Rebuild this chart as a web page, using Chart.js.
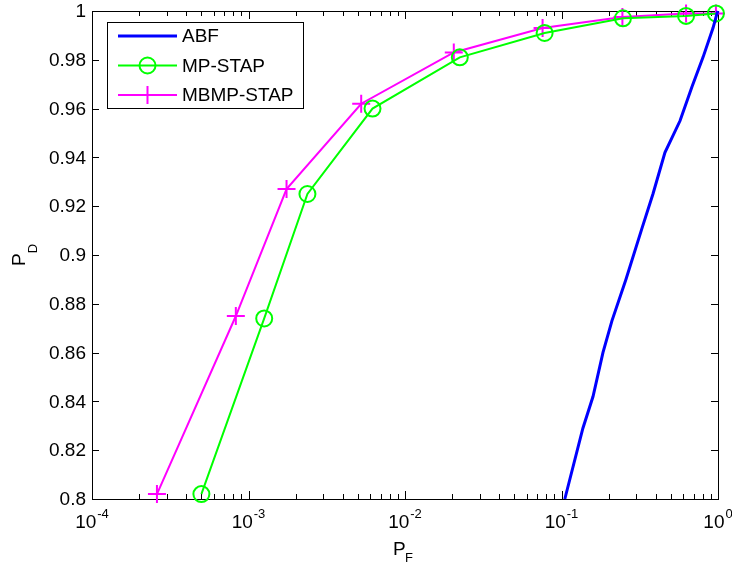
<!DOCTYPE html>
<html>
<head>
<meta charset="utf-8">
<script src="https://cdn.jsdelivr.net/npm/chart.js@4/dist/chart.umd.min.js"></script>
<style>
  html, body { margin: 0; padding: 0; background: #fff; }
  #wrap { width: 732px; height: 567px; }
</style>
</head>
<body>
<div id="wrap"><canvas id="roc" width="732" height="567"></canvas></div>
<script>
// ROC curves: detection probability vs false alarm probability
const seriesNames = ['ABF', 'MP-STAP', 'MBMP-STAP'];

const abfPf = [0.105, 0.137, 0.159, 0.184, 0.210, 0.258, 0.327, 0.384, 0.458, 0.572, 0.682, 0.802, 0.929, 0.986, 1.0];
const abfPd = [0.800, 0.829, 0.842, 0.860, 0.873, 0.890, 0.911, 0.925, 0.942, 0.955, 0.969, 0.981, 0.993, 0.999, 1.0];

const mpPf = [5.0e-4, 1.26e-3, 2.38e-3, 6.2e-3, 0.0224, 0.078, 0.247, 0.625, 0.97];
const mpPd = [0.802, 0.874, 0.925, 0.960, 0.981, 0.991, 0.997, 0.998, 0.999];

const mbPf = [2.6e-4, 8.3e-4, 1.75e-3, 5.25e-3, 0.0205, 0.0757, 0.245, 0.625, 0.97];
const mbPd = [0.802, 0.875, 0.927, 0.962, 0.983, 0.993, 0.9975, 0.999, 0.999];

const xDecades = [-4, -3, -2, -1, 0];
const yTicks = [0.8, 0.82, 0.84, 0.86, 0.88, 0.9, 0.92, 0.94, 0.96, 0.98, 1];
const yTickLabels = ['0.8', '0.82', '0.84', '0.86', '0.88', '0.9', '0.92', '0.94', '0.96', '0.98', '1'];

const FONT = '"Liberation Sans", Arial, Helvetica, sans-serif';

function pts(xs, ys) {
    return xs.map((x, i) => ({ x: x, y: ys[i] }));
}

// axes box, inward ticks, tick labels, axis titles, legend
const matlabAxes = {
    id: 'matlabAxes',
    beforeDatasetsDraw(chart) {
        const { ctx, chartArea: a, scales: { x, y } } = chart;
        ctx.save();
        ctx.strokeStyle = '#000';
        ctx.lineWidth = 1;
        ctx.beginPath();
        xDecades.forEach(k => {
            for (let m = 1; m <= 9; m++) {
                const v = m * Math.pow(10, k);
                if (v > 1) break;
                const px = Math.round(x.getPixelForValue(v)) + 0.5;
                const len = m === 1 ? 8 : 5;
                ctx.moveTo(px, a.bottom); ctx.lineTo(px, a.bottom - len);
                ctx.moveTo(px, a.top); ctx.lineTo(px, a.top + len);
            }
        });
        yTicks.forEach(v => {
            const py = Math.round(y.getPixelForValue(v)) + 0.5;
            ctx.moveTo(a.left, py); ctx.lineTo(a.left + 7, py);
            ctx.moveTo(a.right, py); ctx.lineTo(a.right - 7, py);
        });
        ctx.stroke();
        ctx.strokeRect(Math.round(a.left) + 0.5, Math.round(a.top) + 0.5,
            Math.round(a.right - a.left), Math.round(a.bottom - a.top));

        ctx.fillStyle = '#000';

        // y tick labels
        ctx.font = '19px ' + FONT;
        ctx.textAlign = 'right';
        ctx.textBaseline = 'middle';
        yTicks.forEach((v, i) => {
            ctx.fillText(yTickLabels[i], a.left - 6, y.getPixelForValue(v) + 1);
        });

        // x tick labels 10^k
        ctx.textBaseline = 'alphabetic';
        ctx.textAlign = 'left';
        xDecades.forEach(k => {
            const px = x.getPixelForValue(Math.pow(10, k));
            ctx.font = '19px ' + FONT;
            const wb = ctx.measureText('10').width;
            ctx.font = '13px ' + FONT;
            const exp = k === 0 ? '0' : '-' + Math.abs(k);
            const we = ctx.measureText(exp).width;
            const x0 = px - (wb + 1 + we) / 2;
            ctx.font = '19px ' + FONT;
            ctx.fillText('10', x0, a.bottom + 29);
            ctx.font = '13px ' + FONT;
            ctx.fillText(exp, x0 + wb + 1, a.bottom + 19);
        });

        // x axis title P_F
        ctx.font = '19px ' + FONT;
        ctx.fillText('P', 393, 555);
        ctx.font = '13px ' + FONT;
        ctx.fillText('F', 405, 562);

        // y axis title P_D
        ctx.translate(25, 266);
        ctx.rotate(-Math.PI / 2);
        ctx.font = '19px ' + FONT;
        ctx.fillText('P', 0, 0);
        const wp = ctx.measureText('P').width;
        ctx.font = '13px ' + FONT;
        ctx.fillText('D', wp, 12);
        ctx.restore();
    },
    afterDatasetsDraw(chart) {
        const { ctx } = chart;
        ctx.save();
        ctx.fillStyle = '#fff';
        ctx.fillRect(107, 22, 196, 86);
        ctx.strokeStyle = '#000';
        ctx.lineWidth = 1;
        ctx.strokeRect(107.5, 22.5, 196, 86);
        ctx.font = '19px ' + FONT;
        ctx.textBaseline = 'middle';
        ctx.textAlign = 'left';
        chart.data.datasets.forEach((ds, i) => {
            const cy = 36 + i * 29.5;
            ctx.strokeStyle = ds.borderColor;
            ctx.lineWidth = ds.borderWidth;
            ctx.beginPath();
            ctx.moveTo(118, cy); ctx.lineTo(177, cy);
            ctx.stroke();
            if (ds.pointRadius > 0) {
                ctx.lineWidth = ds.pointBorderWidth;
                ctx.beginPath();
                if (ds.pointStyle === 'circle') {
                    ctx.arc(147.5, cy, ds.pointRadius, 0, Math.PI * 2);
                } else {
                    ctx.moveTo(147.5 - ds.pointRadius, cy); ctx.lineTo(147.5 + ds.pointRadius, cy);
                    ctx.moveTo(147.5, cy - ds.pointRadius); ctx.lineTo(147.5, cy + ds.pointRadius);
                }
                ctx.stroke();
            }
            ctx.fillStyle = '#000';
            ctx.fillText(ds.label, 182, cy + 1);
        });
        ctx.restore();
    }
};

new Chart(document.getElementById('roc'), {
    type: 'line',
    data: {
        datasets: [
            {
                label: seriesNames[0],
                data: pts(abfPf, abfPd),
                borderColor: '#0000ff',
                borderWidth: 3,
                pointRadius: 0,
                pointBorderWidth: 0,
                pointStyle: false,
                tension: 0
            },
            {
                label: seriesNames[1],
                data: pts(mpPf, mpPd),
                borderColor: '#00ff00',
                backgroundColor: 'rgba(0,0,0,0)',
                borderWidth: 2,
                pointStyle: 'circle',
                pointRadius: 8,
                pointBorderWidth: 2,
                pointBorderColor: '#00ff00',
                pointBackgroundColor: 'rgba(0,0,0,0)',
                tension: 0
            },
            {
                label: seriesNames[2],
                data: pts(mbPf, mbPd),
                borderColor: '#ff00ff',
                backgroundColor: 'rgba(0,0,0,0)',
                borderWidth: 2,
                pointStyle: 'cross',
                pointRadius: 9,
                pointBorderWidth: 2,
                pointBorderColor: '#ff00ff',
                tension: 0
            }
        ]
    },
    options: {
        responsive: false,
        animation: false,
        clip: false,
        layout: { padding: { top: 10, right: 14, left: 0, bottom: 0 } },
        plugins: {
            legend: { display: false },
            tooltip: { enabled: false }
        },
        scales: {
            x: {
                type: 'logarithmic',
                min: 1e-4,
                max: 1,
                grid: { display: false, drawTicks: false },
                border: { display: false },
                ticks: { display: false },
                afterFit(scale) { scale.height = 68; }
            },
            y: {
                type: 'linear',
                min: 0.8,
                max: 1,
                grid: { display: false, drawTicks: false },
                border: { display: false },
                ticks: { display: false },
                afterFit(scale) { scale.width = 92; }
            }
        }
    },
    plugins: [matlabAxes]
});
</script>
</body>
</html>
